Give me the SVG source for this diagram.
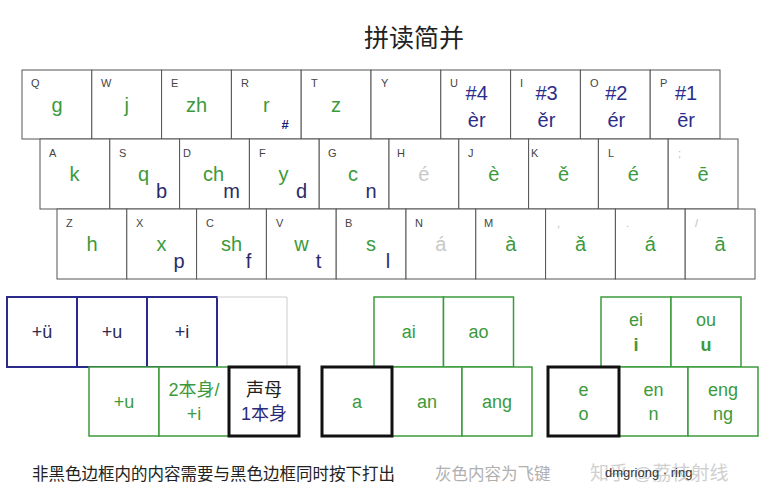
<svg xmlns="http://www.w3.org/2000/svg" width="777" height="500" viewBox="0 0 777 500">
<style>
text{font-family:"Liberation Sans",Arial,"Noto Sans CJK SC",sans-serif}
.key{fill:#fff;stroke:#555;stroke-width:1}
.lab{font-size:11px;fill:#444}
.labl{font-size:11px;fill:#bbb}
.m{font-size:20px;fill:#3c9a3c;text-anchor:middle}
.g{font-size:20px;fill:#c8c8c8;text-anchor:middle}
.s{font-size:20px;fill:#2b2b6b;text-anchor:middle}
.b{font-size:20px;fill:#2c2c8a;text-anchor:middle}
.hash{font-size:13px;font-weight:bold;fill:#1c1c7a;text-anchor:middle}
.bl{fill:#fff;stroke:#2a2a8a;stroke-width:2}
.gr{fill:#fff;stroke:#3c9a3c;stroke-width:1.5}
.bk{fill:#fff;stroke:#111;stroke-width:3}
.gy{fill:#fff;stroke:#ccc;stroke-width:1}
.t{font-size:18px;text-anchor:middle}
</style>
<rect width="777" height="500" fill="#fff"/>
<text x="414" y="47" font-size="25" text-anchor="middle" fill="#222">拼读简并</text>

<g id="row1">
<g id="kQ"><rect class="key" x="22" y="70" width="69.8" height="69"/><text class="lab" x="31" y="87">Q</text><text class="m" x="57" y="112">g</text></g>
<g id="kW"><rect class="key" x="91.8" y="70" width="69.8" height="69"/><text class="lab" x="101" y="87">W</text><text class="m" x="126.7" y="112">j</text></g>
<g id="kE"><rect class="key" x="161.6" y="70" width="69.8" height="69"/><text class="lab" x="171" y="87">E</text><text class="m" x="196.5" y="112">zh</text></g>
<g id="kR"><rect class="key" x="231.4" y="70" width="69.8" height="69"/><text class="lab" x="241" y="87">R</text><text class="m" x="266.3" y="112">r</text><text class="hash" x="285" y="129">#</text></g>
<g id="kT"><rect class="key" x="301.2" y="70" width="69.8" height="69"/><text class="lab" x="311" y="87">T</text><text class="m" x="336.1" y="112">z</text></g>
<g id="kY"><rect class="key" x="371" y="70" width="69.8" height="69"/><text class="lab" x="381" y="87">Y</text></g>
<g id="kU"><rect class="key" x="440.8" y="70" width="69.8" height="69"/><text class="lab" x="450" y="87">U</text><text class="b" x="476.7" y="100">#4</text><text class="b" x="476.7" y="127">èr</text></g>
<g id="kI"><rect class="key" x="510.6" y="70" width="69.8" height="69"/><text class="lab" x="520" y="87">I</text><text class="b" x="546.5" y="100">#3</text><text class="b" x="546.5" y="127">ěr</text></g>
<g id="kO"><rect class="key" x="580.4" y="70" width="69.8" height="69"/><text class="lab" x="590" y="87">O</text><text class="b" x="616.3" y="100">#2</text><text class="b" x="616.3" y="127">ér</text></g>
<g id="kP"><rect class="key" x="650.2" y="70" width="69.8" height="69"/><text class="lab" x="660" y="87">P</text><text class="b" x="686.1" y="100">#1</text><text class="b" x="686.1" y="127">ēr</text></g>
</g>

<g id="row2">
<g id="kA"><rect class="key" x="40" y="139" width="69.8" height="70"/><text class="lab" x="49" y="157">A</text><text class="m" x="74.5" y="181">k</text></g>
<g id="kS"><rect class="key" x="109.8" y="139" width="69.8" height="70"/><text class="lab" x="119" y="157">S</text><text class="m" x="143.5" y="181">q</text><text class="s" x="161.5" y="198">b</text></g>
<g id="kD"><rect class="key" x="179.6" y="139" width="69.8" height="70"/><text class="lab" x="183" y="157">D</text><text class="m" x="213.5" y="181">ch</text><text class="s" x="231.5" y="198">m</text></g>
<g id="kF"><rect class="key" x="249.4" y="139" width="69.8" height="70"/><text class="lab" x="259" y="157">F</text><text class="m" x="283.5" y="181">y</text><text class="s" x="301.5" y="198">d</text></g>
<g id="kG"><rect class="key" x="319.2" y="139" width="69.8" height="70"/><text class="lab" x="328" y="157">G</text><text class="m" x="353" y="181">c</text><text class="s" x="371" y="198">n</text></g>
<g id="kH"><rect class="key" x="389" y="139" width="69.8" height="70"/><text class="lab" x="397" y="157">H</text><text class="g" x="423.9" y="181">é</text></g>
<g id="kJ"><rect class="key" x="458.8" y="139" width="69.8" height="70"/><text class="lab" x="468" y="157">J</text><text class="m" x="493.7" y="181">è</text></g>
<g id="kK"><rect class="key" x="528.6" y="139" width="69.8" height="70"/><text class="lab" x="531" y="157">K</text><text class="m" x="563.5" y="181">ě</text></g>
<g id="kL"><rect class="key" x="598.4" y="139" width="69.8" height="70"/><text class="lab" x="608" y="157">L</text><text class="m" x="633.3" y="181">é</text></g>
<g id="kSemi"><rect class="key" x="668.2" y="139" width="69.8" height="70"/><text class="labl" x="678" y="157">;</text><text class="m" x="703.1" y="181">ē</text></g>
</g>

<g id="row3">
<g id="kZ"><rect class="key" x="57" y="209" width="69.8" height="70"/><text class="lab" x="66" y="227">Z</text><text class="m" x="92" y="251">h</text></g>
<g id="kX"><rect class="key" x="126.8" y="209" width="69.8" height="70"/><text class="lab" x="136" y="227">X</text><text class="m" x="161.5" y="251">x</text><text class="s" x="179" y="268">p</text></g>
<g id="kC"><rect class="key" x="196.6" y="209" width="69.8" height="70"/><text class="lab" x="206" y="227">C</text><text class="m" x="231.5" y="251">sh</text><text class="s" x="248.5" y="268">f</text></g>
<g id="kV"><rect class="key" x="266.4" y="209" width="69.8" height="70"/><text class="lab" x="276" y="227">V</text><text class="m" x="301.5" y="251">w</text><text class="s" x="318.5" y="268">t</text></g>
<g id="kB"><rect class="key" x="336.2" y="209" width="69.8" height="70"/><text class="lab" x="345" y="227">B</text><text class="m" x="371" y="251">s</text><text class="s" x="388" y="268">l</text></g>
<g id="kN"><rect class="key" x="406" y="209" width="69.8" height="70"/><text class="lab" x="415" y="227">N</text><text class="g" x="440.9" y="251">á</text></g>
<g id="kM"><rect class="key" x="475.8" y="209" width="69.8" height="70"/><text class="lab" x="484" y="227">M</text><text class="m" x="510.7" y="251">à</text></g>
<g id="kComma"><rect class="key" x="545.6" y="209" width="69.8" height="70"/><text class="labl" x="557" y="227">,</text><text class="m" x="580.5" y="251">ǎ</text></g>
<g id="kDot"><rect class="key" x="615.4" y="209" width="69.8" height="70"/><text class="labl" x="626" y="227">.</text><text class="m" x="650.3" y="251">á</text></g>
<g id="kSlash"><rect class="key" x="685.2" y="209" width="69.8" height="70"/><text class="labl" x="695" y="227">/</text><text class="m" x="720.1" y="251">ā</text></g>
</g>

<g id="group-left">
<g id="b-uu"><rect class="bl" x="7" y="297" width="70" height="70"/><text class="t" x="42" y="338" fill="#2b2b55">+ü</text></g>
<g id="b-u"><rect class="bl" x="77" y="297" width="70" height="70"/><text class="t" x="112" y="338" fill="#2b2b55">+u</text></g>
<g id="b-i"><rect class="bl" x="147" y="297" width="70" height="70"/><text class="t" x="182" y="338" fill="#2b2b55">+i</text></g>
<g id="b-empty"><path d="M217 297H287V367" fill="none" stroke="#ccc" stroke-width="1"/></g>
<g id="b-u2"><rect class="gr" x="89" y="367" width="70" height="69"/><text class="t" x="124" y="408" fill="#3c9a3c">+u</text></g>
<g id="b-2"><rect class="gr" x="159" y="367" width="70" height="69"/><text class="t" x="194" y="396" fill="#3c9a3c">2本身/</text><text class="t" x="194" y="420" fill="#3c9a3c">+i</text></g>
<g id="b-sm"><rect class="bk" x="229" y="367" width="70" height="69"/><text class="t" x="264" y="396" fill="#222">声母</text><text class="t" x="264" y="420" fill="#2b2b7a">1本身</text></g>
</g>

<g id="group-a">
<g id="b-ai"><rect class="gr" x="374" y="297" width="69.5" height="70"/><text class="t" x="408.7" y="338" fill="#3c9a3c">ai</text></g>
<g id="b-ao"><rect class="gr" x="443.5" y="297" width="70" height="70"/><text class="t" x="478.5" y="338" fill="#3c9a3c">ao</text></g>
<g id="b-an"><rect class="gr" x="392" y="367" width="70" height="69"/><text class="t" x="427" y="408" fill="#3c9a3c">an</text></g>
<g id="b-ang"><rect class="gr" x="462" y="367" width="70" height="69"/><text class="t" x="497" y="408" fill="#3c9a3c">ang</text></g>
<g id="b-a"><rect class="bk" x="322" y="367" width="70" height="69"/><text class="t" x="357" y="408" fill="#3c9a3c">a</text></g>
</g>

<g id="group-e">
<g id="b-ei"><rect class="gr" x="601" y="297" width="70" height="70"/><text class="t" x="636" y="326" fill="#3c9a3c">ei</text><text class="t" x="636" y="351" fill="#3c9a3c" font-weight="bold">i</text></g>
<g id="b-ou"><rect class="gr" x="671" y="297" width="70" height="70"/><text class="t" x="706" y="326" fill="#3c9a3c">ou</text><text class="t" x="706" y="351" fill="#3c9a3c" font-weight="bold">u</text></g>
<g id="b-en"><rect class="gr" x="619" y="367" width="69" height="69"/><text class="t" x="653.5" y="396" fill="#3c9a3c">en</text><text class="t" x="653.5" y="420" fill="#3c9a3c">n</text></g>
<g id="b-eng"><rect class="gr" x="688" y="367" width="70" height="69"/><text class="t" x="723" y="396" fill="#3c9a3c">eng</text><text class="t" x="723" y="420" fill="#3c9a3c">ng</text></g>
<g id="b-e"><rect class="bk" x="548" y="367" width="71" height="69"/><text class="t" x="583.5" y="396" fill="#3c9a3c">e</text><text class="t" x="583.5" y="420" fill="#3c9a3c">o</text></g>
</g>

<text x="32" y="480" font-size="16.5" fill="#222">非黑色边框内的内容需要与黑色边框同时按下打出</text>
<text x="435" y="480" font-size="16.5" fill="#b0b0b0">灰色内容为飞键</text>
<text x="590" y="480" font-size="19" fill="#d0d0d0">知乎 @荔枝射线</text>
<text x="605" y="477" font-size="13" fill="#333">dmgriong · ring</text>
</svg>
